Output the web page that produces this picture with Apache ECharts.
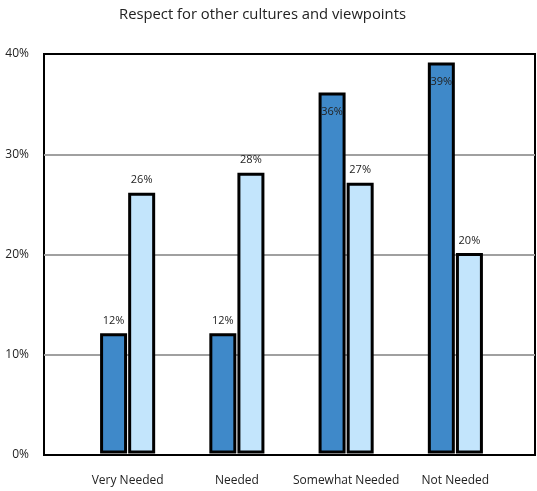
<!DOCTYPE html>
<html>
<head>
<meta charset="utf-8">
<script src="https://cdn.jsdelivr.net/npm/echarts@6/dist/echarts.min.js"></script>
<style>
  html, body { margin: 0; padding: 0; background: #fff; }
  #chart { width: 537px; height: 491px; }
</style>
</head>
<body>
<div id="chart"></div>
<script>
const categories = ['Very Needed', 'Needed', 'Somewhat Needed', 'Not Needed'];
const seriesA = [12, 12, 36, 39];
const seriesB = [26, 28, 27, 20];
const yTicks = [0, 10, 20, 30, 40];

const FONT = 'Open Sans';
const chart = echarts.init(document.getElementById('chart'), null, { renderer: 'canvas' });

function toItems(values) {
  return values.map(v => ({
    value: v,
    label: v > 30
      ? { position: 'insideTop', distance: 14 }
      : { position: 'top', distance: 7 }
  }));
}

const labelStyle = {
  show: true,
  formatter: '{c}%',
  fontFamily: FONT,
  fontSize: 11,
  color: '#222'
};

chart.setOption({
  animation: false,
  backgroundColor: '#ffffff',
  title: {
    text: 'Respect for other cultures and viewpoints',
    left: 114,
    top: 2,
    textStyle: { fontFamily: FONT, fontSize: 14.8, fontWeight: 'normal', color: '#222' }
  },
  grid: [
    { left: 44, right: 2, top: 54, bottom: 36, show: true, borderColor: '#000', borderWidth: 2, backgroundColor: 'transparent' },
    { left: 73, right: 27, top: 52.5, bottom: 34.5 }
  ],
  xAxis: [
    { gridIndex: 0, type: 'value', min: 0, max: 1, show: false },
    {
      gridIndex: 1, type: 'category', data: categories,
      axisLine: { show: false }, axisTick: { show: false },
      axisLabel: { interval: 0, margin: 18.5, fontFamily: FONT, fontSize: 12, color: '#222' }
    }
  ],
  yAxis: [
    {
      gridIndex: 0, type: 'value', min: yTicks[0], max: yTicks[yTicks.length - 1], interval: 10,
      axisLine: { show: false }, axisTick: { show: false },
      axisLabel: { formatter: '{value}%', margin: 15, fontFamily: FONT, fontSize: 12, color: '#222' },
      splitLine: { show: true, showMinLine: false, showMaxLine: false, lineStyle: { color: '#a0a0a0', width: 2 } }
    },
    { gridIndex: 1, type: 'value', min: -0.3, max: yTicks[yTicks.length - 1], show: false }
  ],
  series: [
    {
      type: 'bar', xAxisIndex: 1, yAxisIndex: 1,
      data: toItems(seriesA),
      barWidth: 27, barGap: '4%',
      itemStyle: { color: '#3f89c9', borderColor: '#000', borderWidth: 3 },
      label: labelStyle,
      z: 5
    },
    {
      type: 'bar', xAxisIndex: 1, yAxisIndex: 1,
      data: toItems(seriesB),
      barWidth: 27, barGap: '4%',
      itemStyle: { color: '#c3e5fc', borderColor: '#000', borderWidth: 3 },
      label: labelStyle,
      z: 5
    }
  ]
});
</script>
</body>
</html>
